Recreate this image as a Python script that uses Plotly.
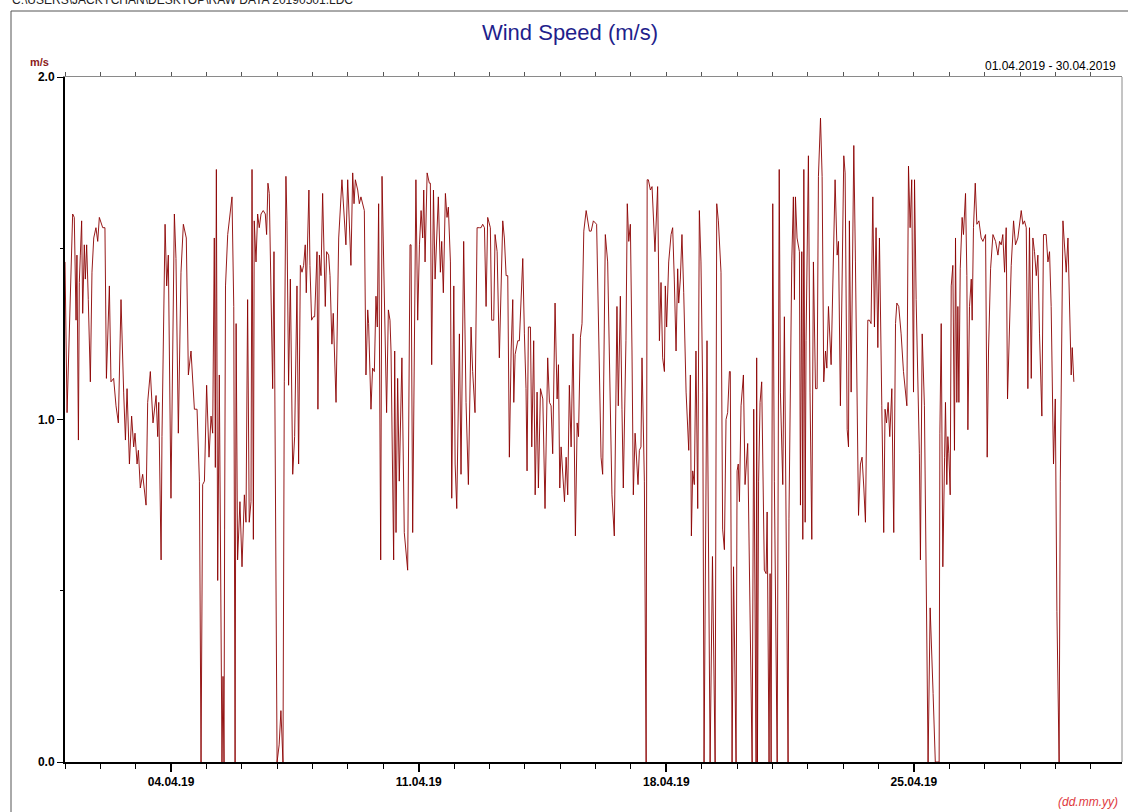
import pandas as pd
import plotly.graph_objects as go

# ---- data (hours since 01.04.2019 00:00, wind speed m/s) ----
hours = [
    0.0, 1.4, 5.2, 6.3, 7.5, 8.1, 9.1, 9.7, 10.4, 11.3, 12.0, 13.1, 13.8, 14.7, 15.8, 17.2, 18.3, 19.5, 21.0, 22.2,
    23.3, 25.6, 27.1, 28.1, 30.1, 31.2, 33.0, 34.6, 36.2, 38.0, 39.8, 41.0, 42.1, 43.7, 45.2, 46.6, 47.5, 48.9, 49.8, 51.1,
    52.7, 55.0, 56.1, 57.9, 59.7, 61.8, 62.9, 63.6, 65.2, 65.8, 67.9, 69.0, 70.1, 71.9, 74.2, 75.3, 76.9, 78.7, 80.3, 82.3,
    83.7, 85.5, 87.8, 89.6, 91.2, 92.3, 93.4, 94.6, 96.1, 97.7, 99.1, 100.2, 101.3, 102.0, 102.7, 103.6, 104.7, 106.5, 107.2, 107.9,
    108.3, 108.9, 110.4, 112.7, 113.3, 114.5, 115.4, 116.1, 117.1, 118.7, 120.1, 121.7, 122.8, 123.9, 125.0, 126.2, 126.9, 127.8, 128.4, 129.6,
    130.7, 131.8, 133.0, 134.5, 135.9, 136.8, 137.7, 138.6, 139.8, 140.9, 141.8, 142.9, 143.9, 145.3, 146.5, 147.9, 148.8, 149.9, 150.6, 151.7,
    152.9, 154.5, 155.8, 157.4, 158.5, 159.7, 160.8, 161.9, 163.0, 163.7, 165.5, 166.2, 167.3, 168.5, 169.4, 171.0, 171.6, 172.6, 173.7, 174.8,
    176.6, 177.5, 178.9, 179.8, 181.1, 182.0, 183.9, 185.7, 187.9, 190.6, 191.8, 194.0, 195.2, 196.1, 197.0, 198.6, 199.7, 200.8, 203.1, 204.2,
    205.4, 206.0, 207.6, 208.7, 209.9, 211.0, 211.9, 212.8, 214.2, 215.1, 217.1, 218.2, 219.4, 220.5, 221.2, 223.0, 223.7, 224.6, 225.7, 226.8,
    228.6, 230.2, 232.5, 233.2, 234.1, 234.8, 235.9, 238.1, 239.3, 240.5, 241.6, 242.7, 243.4, 244.3, 245.7, 247.2, 247.9, 248.8, 250.0, 251.1,
    252.0, 253.3, 254.7, 255.6, 256.7, 258.1, 259.2, 260.1, 261.5, 262.4, 263.8, 264.7, 265.8, 267.6, 268.7, 270.5, 272.1, 273.7, 275.5, 276.6,
    278.2, 279.6, 281.2, 282.3, 283.4, 284.6, 285.7, 286.8, 288.6, 289.5, 290.9, 291.8, 293.2, 294.7, 297.0, 298.1, 299.3, 300.4, 301.5, 302.7,
    303.8, 304.5, 305.4, 307.2, 308.3, 310.6, 311.7, 312.8, 313.5, 314.4, 315.8, 316.7, 318.0, 319.0, 320.3, 321.2, 322.6, 324.2, 325.7, 327.5,
    328.7, 329.8, 330.9, 332.5, 333.9, 334.8, 335.7, 336.6, 338.9, 340.0, 341.1, 342.2, 343.4, 344.7, 346.3, 347.5, 348.4, 349.7, 350.8, 352.0,
    353.6, 355.8, 357.0, 358.5, 360.7, 362.1, 363.7, 364.8, 366.6, 368.2, 369.8, 371.1, 372.7, 373.9, 374.5, 375.4, 376.8, 377.9, 378.8, 380.6,
    381.5, 382.5, 383.6, 384.7, 385.6, 386.8, 387.9, 388.8, 389.7, 390.8, 391.5, 392.4, 393.1, 394.3, 395.0, 395.8, 397.2, 398.3, 399.4, 400.3,
    402.1, 403.3, 404.4, 405.5, 406.7, 407.3, 408.2, 409.6, 411.2, 412.3, 413.4, 414.6, 415.7, 416.4, 417.5, 418.6, 419.8, 421.4, 423.2, 424.3,
    425.0, 425.9, 427.0, 428.1, 429.3, 430.4, 431.5, 432.7, 433.6, 434.5, 435.6, 437.7, 439.3, 441.1, 442.2, 443.3, 445.1, 446.2, 447.4, 448.5,
    449.6, 450.8, 451.4, 452.6, 453.6, 455.3, 456.0, 456.8, 457.6, 458.7, 460.3, 461.4, 463.2, 466.2, 467.3, 468.9, 469.3, 469.8, 470.6, 471.6,
    472.7, 474.5, 475.7, 476.4, 477.7, 478.4, 479.1, 480.2, 481.3, 483.2, 483.9, 484.6, 485.4, 487.0, 488.1, 489.3, 490.6, 491.2, 492.2, 493.1,
    494.2, 494.9, 495.6, 496.7, 498.3, 499.0, 499.9, 500.6, 501.3, 502.2, 502.8, 503.5, 504.4, 505.5, 506.7, 507.8, 509.2, 510.3, 511.2, 512.6,
    513.7, 514.8, 516.0, 516.9, 518.0, 519.8, 520.9, 522.5, 523.9, 524.8, 526.1, 527.7, 528.4, 529.3, 530.7, 531.6, 532.2, 533.4, 535.2, 536.3,
    538.4, 539.7, 540.8, 542.0, 543.1, 544.7, 545.8, 546.9, 548.1, 549.2, 550.3, 551.5, 552.6, 554.2, 555.5, 556.4, 557.4, 558.5, 559.6, 561.0,
    562.3, 563.5, 564.4, 565.7, 567.3, 568.9, 570.0, 571.2, 572.3, 573.4, 574.5, 575.7, 576.4, 577.5, 579.7, 580.4, 581.6, 583.1, 585.6, 587.0,
    589.0, 590.5, 593.1, 593.6, 594.5, 595.6, 596.8, 597.4, 598.3, 599.0, 599.7, 600.6, 601.3, 602.4, 603.5, 604.2, 605.1, 605.8, 606.5, 607.4,
    608.7, 609.6, 611.0, 611.9, 612.6, 613.7, 614.9, 615.5, 616.4, 617.6, 618.7, 620.1, 621.6, 622.8, 624.6, 625.7, 626.6, 628.0, 629.6, 631.4,
    633.0, 634.1, 635.2, 636.3, 637.5, 638.6, 639.5, 640.9, 642.0, 643.6, 644.9, 646.5, 647.7, 648.8, 649.9, 651.0, 652.2, 653.3, 654.4, 655.6,
    656.7, 657.8, 659.0, 660.1, 661.2, 662.8, 663.9, 665.7, 666.9, 668.0, 669.1, 670.7, 671.9, 673.0, 674.5, 675.3, 677.1, 678.2, 679.3, 680.5,
    681.6, 682.7, 683.4, 684.5,
]
speed = [
    1.46, 1.02, 1.60, 1.59, 1.29, 1.48, 0.94, 1.40, 1.48, 1.58, 1.31, 1.51, 1.41, 1.51, 1.35, 1.11, 1.43, 1.53, 1.56, 1.52,
    1.59, 1.56, 1.56, 1.12, 1.39, 1.11, 1.12, 1.04, 0.99, 1.35, 1.08, 0.94, 1.09, 0.87, 1.01, 0.92, 0.96, 0.87, 0.91, 0.80,
    0.84, 0.75, 1.05, 1.14, 0.99, 1.07, 0.95, 1.05, 0.59, 0.95, 1.57, 1.39, 1.48, 0.77, 1.60, 1.47, 0.96, 1.43, 1.57, 1.53,
    1.13, 1.20, 1.03, 1.03, 0.82, 0.00, 0.81, 0.82, 1.10, 0.89, 1.01, 0.96, 1.53, 0.86, 1.73, 0.53, 1.13, 0.00, 0.25, 0.00,
    0.68, 1.39, 1.54, 1.64, 1.65, 1.33, 0.00, 1.28, 0.59, 0.76, 0.57, 0.78, 0.70, 1.35, 0.70, 0.76, 1.73, 0.65, 1.58, 1.46,
    1.60, 1.56, 1.60, 1.61, 1.60, 1.54, 1.69, 1.66, 1.39, 1.09, 1.49, 0.70, 0.00, 0.05, 0.15, 0.00, 1.11, 1.71, 1.58, 1.10,
    1.41, 0.84, 0.95, 1.39, 0.87, 1.45, 1.43, 1.45, 1.51, 1.37, 1.67, 1.45, 1.29, 1.30, 1.30, 1.49, 1.03, 1.48, 1.42, 1.66,
    1.33, 1.49, 1.48, 1.42, 1.22, 1.31, 1.05, 1.53, 1.70, 1.51, 1.70, 1.45, 1.72, 1.63, 1.70, 1.67, 1.63, 1.65, 1.61, 1.13,
    1.32, 1.28, 1.03, 1.15, 1.14, 1.36, 1.27, 1.63, 0.59, 1.71, 1.27, 1.02, 1.32, 1.29, 1.20, 0.59, 1.20, 0.67, 1.12, 0.82,
    1.18, 0.67, 0.56, 0.91, 1.51, 1.51, 0.67, 1.70, 1.29, 1.51, 1.61, 1.53, 1.67, 1.46, 1.72, 1.69, 1.69, 1.16, 1.67, 1.41,
    1.51, 1.65, 1.43, 1.52, 1.37, 1.66, 1.59, 1.62, 1.46, 0.77, 1.39, 0.87, 0.74, 1.25, 0.84, 1.52, 1.05, 0.81, 1.27, 1.14,
    1.02, 1.56, 1.56, 1.56, 1.57, 1.56, 1.33, 1.59, 1.56, 1.29, 1.29, 1.54, 1.49, 1.18, 1.58, 1.53, 1.42, 1.42, 0.89, 1.20,
    1.35, 1.05, 1.19, 1.23, 1.23, 1.47, 1.25, 1.09, 0.85, 1.27, 1.27, 0.92, 1.23, 0.78, 1.08, 0.80, 1.09, 1.06, 0.74, 1.18,
    1.05, 1.04, 0.90, 1.34, 1.06, 1.16, 0.80, 0.92, 0.76, 0.89, 0.78, 1.10, 0.92, 1.25, 0.66, 0.99, 0.95, 1.24, 1.28, 1.55,
    1.61, 1.55, 1.55, 1.58, 1.57, 1.29, 0.89, 0.84, 1.54, 1.46, 1.08, 0.78, 0.66, 1.08, 1.33, 1.04, 1.36, 1.03, 0.80, 1.23,
    1.63, 1.52, 1.57, 1.20, 0.78, 0.96, 0.88, 0.81, 0.91, 0.92, 1.18, 0.96, 0.82, 0.00, 1.70, 1.70, 1.67, 1.68, 1.57, 1.49,
    1.68, 1.23, 1.40, 1.18, 1.14, 1.39, 1.27, 1.46, 1.54, 1.56, 1.41, 1.20, 1.44, 1.34, 1.41, 1.54, 1.37, 1.08, 0.91, 1.13,
    0.66, 0.85, 0.81, 1.20, 0.74, 1.61, 1.46, 1.08, 0.00, 0.63, 1.23, 0.00, 0.60, 0.00, 1.63, 1.58, 1.43, 0.68, 0.62, 1.00,
    1.02, 1.14, 1.14, 0.00, 0.57, 0.00, 0.85, 0.87, 0.76, 1.04, 1.13, 0.81, 0.93, 0.00, 1.03, 0.00, 1.18, 0.00, 0.82, 1.05,
    1.11, 0.56, 0.55, 0.73, 0.00, 0.55, 0.00, 1.63, 0.82, 0.00, 1.14, 1.73, 1.08, 0.81, 1.30, 0.70, 0.00, 0.71, 1.23, 1.46,
    1.65, 1.35, 1.65, 1.53, 1.49, 0.75, 1.49, 0.65, 1.73, 0.70, 1.23, 1.46, 1.77, 1.08, 0.65, 1.46, 1.09, 1.09, 1.71, 1.88,
    1.71, 1.11, 1.20, 1.15, 1.33, 1.16, 1.37, 1.70, 1.48, 1.52, 1.04, 1.63, 1.77, 1.72, 0.97, 0.92, 1.58, 1.08, 1.80, 1.46,
    0.72, 0.87, 0.89, 0.80, 0.70, 1.29, 1.29, 1.28, 1.65, 1.27, 1.56, 1.21, 1.53, 1.04, 0.67, 1.03, 0.99, 1.05, 0.95, 1.09,
    0.67, 1.28, 1.34, 1.33, 1.25, 1.14, 1.08, 1.04, 1.74, 1.56, 1.70, 1.08, 1.70, 1.35, 0.90, 0.59, 1.25, 1.04, 0.00, 0.45,
    0.20, 0.00, 0.00, 0.96, 1.28, 0.57, 0.89, 1.05, 0.81, 0.95, 0.90, 0.78, 1.39, 1.45, 0.91, 1.53, 1.05, 1.33, 1.05, 1.44,
    1.59, 1.54, 1.66, 1.42, 0.97, 1.33, 1.41, 1.29, 1.56, 1.69, 1.57, 1.58, 1.53, 1.52, 1.54, 0.89, 1.20, 1.44, 1.54, 1.52,
    1.48, 1.52, 1.51, 1.54, 1.43, 1.56, 1.06, 1.30, 1.45, 1.58, 1.51, 1.53, 1.58, 1.61, 1.57, 1.58, 1.56, 1.09, 1.56, 1.12,
    1.53, 1.49, 1.42, 1.48, 1.25, 1.01, 1.54, 1.54, 1.46, 1.49, 1.33, 0.87, 1.06, 0.44, 0.00, 0.82, 1.58, 1.49, 1.43, 1.53,
    1.29, 1.13, 1.21, 1.11,
]

start = pd.Timestamp("2019-04-01 00:00")
axis_end = pd.Timestamp("2019-04-30 21:10")
times = start + pd.to_timedelta(hours, unit="h")

title_text = "Wind Speed (m/s)"
file_text = r"C:\USERS\JACKYCHAN\DESKTOP\RAW DATA 20190501.LDC"
range_text = "01.04.2019 - 30.04.2019"
unit_text = "m/s"
fmt_text = "(dd.mm.yy)"
y_ticks = [0, 1, 2]
y_labels = ["0.0", "1.0", "2.0"]

FONT = "Liberation Sans, Arial, sans-serif"
DAY = 86400000

fig = go.Figure()
fig.add_trace(go.Scatter(
    x=times, y=speed, mode="lines",
    line=dict(color="#8b0000", width=0.9),
    showlegend=False, hoverinfo="x+y",
))
# helper trace so the top (mirror) axis is drawn
fig.add_trace(go.Scatter(
    x=times[:1], y=speed[:1], xaxis="x2", mode="markers",
    marker=dict(opacity=0), showlegend=False, hoverinfo="skip",
))

W, H = 1128, 812
L, R, T, B = 65, 6, 77, 50
pw, ph = W - L - R, H - T - B


def px(x):
    return (x - L) / pw


def py(y):
    return (H - B - y) / ph


fig.update_layout(
    width=W, height=H,
    margin=dict(l=L, r=R, t=T, b=B),
    paper_bgcolor="white", plot_bgcolor="white",
    font=dict(family=FONT, size=12, color="black"),
    title=dict(text=title_text, x=570 / W, xref="container", xanchor="center",
               y=1 - 32 / H, yref="container", yanchor="middle",
               font=dict(family=FONT, size=22, color="#1f1f8c")),
    xaxis=dict(
        type="date", range=[start, axis_end],
        showline=True, linecolor="black", linewidth=2,
        ticks="outside", ticklen=8, tickwidth=2, tickcolor="black",
        tick0="2019-04-04", dtick=7 * DAY, tickformat="%d.%m.%y",
        tickfont=dict(family=FONT, size=12, color="black", weight="bold"),
        minor=dict(ticks="outside", ticklen=5, tickwidth=1, tickcolor="black",
                   dtick=DAY, tick0="2019-04-01", showgrid=False),
        showgrid=False, zeroline=False,
    ),
    xaxis2=dict(
        type="date", overlaying="x", side="top", matches="x",
        showline=True, linecolor="#8a8a8a", linewidth=1,
        ticks="outside", ticklen=4, tickwidth=1, tickcolor="#555555",
        tick0="2019-04-01", dtick=DAY, showticklabels=False,
        showgrid=False, zeroline=False,
    ),
    yaxis=dict(
        range=[0, 2], showline=True, linecolor="black", linewidth=2,
        ticks="outside", ticklen=6, tickwidth=1, tickcolor="black",
        tickvals=y_ticks, ticktext=y_labels,
        tickfont=dict(family=FONT, size=12, color="black", weight="bold"),
        minor=dict(ticks="outside", ticklen=3, tickwidth=1, tickcolor="black",
                   dtick=0.5, showgrid=False),
        showgrid=False, zeroline=False,
    ),
    shapes=[
        dict(type="line", xref="paper", yref="paper", x0=1, x1=1, y0=0, y1=1,
             line=dict(color="#8a8a8a", width=1)),
        dict(type="line", xref="paper", yref="paper", x0=px(11), x1=px(11), y0=py(11), y1=py(H + 5),
             line=dict(color="#555555", width=1)),
        dict(type="line", xref="paper", yref="paper", x0=px(11), x1=px(W + 5), y0=py(11), y1=py(11),
             line=dict(color="#555555", width=1)),
    ],
    annotations=[
        dict(text=file_text, xref="paper", yref="paper", x=px(10), y=py(0),
             xanchor="left", yanchor="middle", showarrow=False,
             font=dict(family=FONT, size=12, color="#222222")),
        dict(text=unit_text, xref="paper", yref="paper", x=px(39), y=py(62),
             xanchor="center", yanchor="middle", showarrow=False,
             font=dict(family=FONT, size=11, color="#8b1a1a", weight="bold")),
        dict(text=range_text, xref="paper", yref="paper", x=px(1118), y=py(66),
             xanchor="right", yanchor="middle", showarrow=False,
             font=dict(family=FONT, size=12, color="black")),
        dict(text="<i>" + fmt_text + "</i>", xref="paper", yref="paper", x=px(1120), y=py(802),
             xanchor="right", yanchor="middle", showarrow=False,
             font=dict(family=FONT, size=12, color="#e0393e")),
    ],
)

fig.write_html("out.html", config={"displayModeBar": False})

# remove the browser's default page margin so the figure sits at the window origin
with open("out.html", "r", encoding="utf-8") as f:
    html = f.read()
html = html.replace("<head>", "<head><style>html,body{margin:0;padding:0;overflow:hidden;}</style>", 1)
with open("out.html", "w", encoding="utf-8") as f:
    f.write(html)
